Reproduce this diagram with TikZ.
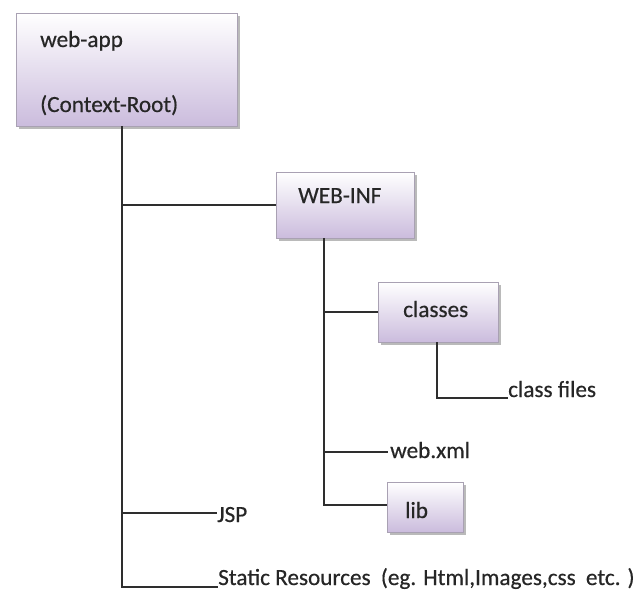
\documentclass[tikz,border=0pt]{standalone}
\usepackage{fontspec}
\setmainfont{Carlito}
\newfontfamily\lblfont{Carlito}[FakeBold=0.5]
\usetikzlibrary{shadows}
\definecolor{boxbot}{HTML}{CBBCDD}
\definecolor{boxedge}{HTML}{A9A1B3}
\definecolor{ink}{HTML}{262626}
\definecolor{linec}{HTML}{2E2E2E}
\tikzset{
  folder/.style={draw=boxedge, line width=0.8pt, top color=white, bottom color=boxbot,
    drop shadow={shadow xshift=3pt, shadow yshift=-3pt, fill=black!45, opacity=0.6},
    inner sep=0pt},
  lbl/.style={anchor=base west, inner sep=0pt, text=ink, font=\lblfont\fontsize{23.2}{27}\selectfont},
  conn/.style={draw=linec, line width=1.6pt}
}
\begin{document}
\begin{tikzpicture}[x=1pt,y=-1pt]
\useasboundingbox (0,0) rectangle (636,590);
% boxes
\node[folder, minimum width=221pt, minimum height=113pt] (webapp) at (126.5,69.5) {};
\node[folder, minimum width=138pt, minimum height=66pt] (webinf) at (345,205) {};
\node[folder, minimum width=120pt, minimum height=60pt] (classes) at (438,312) {};
\node[folder, minimum width=76pt, minimum height=50pt] (lib) at (425,507) {};
% labels
\node[lbl] (webapptxt) at (40,47) {web-app};
\node[lbl] (ctxtxt) at (40,112) {(Context-Root)};
\node[lbl] (webinftxt) at (298,203) {WEB-INF};
\node[lbl] (classestxt) at (403,317) {classes};
\node[lbl] (libtxt) at (405,518) {lib};
\node[lbl] (classfiles) at (508,397) {class files};
\node[lbl] (webxml) at (390,458) {web.xml};
\node[lbl] (jsp) at (217,522) {JSP};
\node[lbl] (static) at (218,585) {Static Resources\hspace{5pt} (eg. Html,Images,css\hspace{5pt} etc. )};
% junction coordinates
\coordinate (trunk) at (122,587);
\coordinate (jspj) at (122,513);
\coordinate (wt) at (324,505);
\coordinate (xmlj) at (324,452);
\coordinate (cf) at (437,398);
% connectors
\draw[conn] (webapp.south -| trunk) -- (trunk) -- (trunk -| static.west);
\draw[conn] (webinf.west -| trunk) -- (webinf.west);
\draw[conn] (jspj) -- (jspj -| jsp.west);
\draw[conn] (webinf.south -| wt) -- (wt) -- (wt -| lib.west);
\draw[conn] (classes.west -| wt) -- (classes.west);
\draw[conn] (xmlj) -- ([xshift=-2pt]xmlj -| webxml.west);
\draw[conn] (classes.south -| cf) -- (cf) -- (cf -| classfiles.west);
\end{tikzpicture}
\end{document}
